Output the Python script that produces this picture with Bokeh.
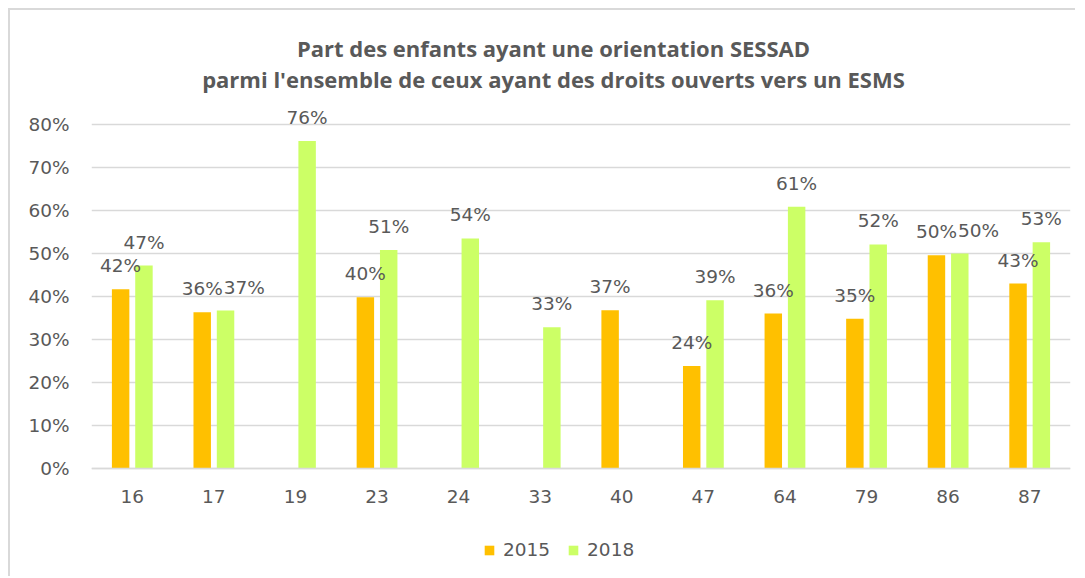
from bokeh.plotting import figure
from bokeh.models import (ColumnDataSource, FactorRange, FixedTicker, NumeralTickFormatter,
                          LabelSet, Label, Legend, LegendItem)
from bokeh.core.properties import value
from bokeh.transform import dodge
from bokeh.embed import file_html
from bokeh.resources import INLINE

# ---- data ----
departements = ["16", "17", "19", "23", "24", "33", "40", "47", "64", "79", "86", "87"]
part_2015 = [0.417, 0.363, None, 0.398, None, None, 0.368, 0.238, 0.360, 0.348, 0.496, 0.430]
part_2018 = [0.472, 0.367, 0.762, 0.508, 0.535, 0.328, None, 0.391, 0.609, 0.521, 0.500, 0.526]
series_names = ["2015", "2018"]
y_ticks = [0.0, 0.1, 0.2, 0.3, 0.4, 0.5, 0.6, 0.7, 0.8]

TITLE1 = "Part des enfants ayant une orientation SESSAD"
TITLE2 = "parmi l'ensemble de ceux ayant des droits ouverts vers un ESMS"

# ---- style / geometry ----
C15 = "#FFC000"
C18 = "#CCFF66"
TXT = "#595959"
GRID = "#D9D9D9"
FONT = "DejaVu Sans"
FS = "18.5px"
OFF = 0.143
BW = 0.214
FRAME_W, FRAME_H = 979, 566
ZERO_PX = 457.7          # distance of the 0 % line below the frame top
PX_PER_UNIT = 429.4      # pixels for 100 %
Y_MAX = ZERO_PX / PX_PER_UNIT
Y_MIN = -(FRAME_H - ZERO_PX) / PX_PER_UNIT

def nan(v):
    return float("nan") if v is None else v

src = ColumnDataSource(dict(dep=departements,
                            v15=[nan(v) for v in part_2015],
                            v18=[nan(v) for v in part_2018]))

p = figure(x_range=FactorRange(*departements, range_padding=0), y_range=(Y_MIN, Y_MAX),
           frame_width=FRAME_W, frame_height=FRAME_H,
           min_border_left=81, min_border_right=5, min_border_top=0, min_border_bottom=0,
           output_backend="svg", toolbar_location=None,
           styles={"border-top": "2px solid #D9D9D9", "border-left": "2px solid #D9D9D9",
                   "margin-left": "8px", "margin-top": "8px"})
p.title = None

r15 = p.vbar(x=dodge("dep", -OFF, range=p.x_range), top="v15", width=BW, source=src,
             fill_color=C15, line_color=None)
r18 = p.vbar(x=dodge("dep", OFF, range=p.x_range), top="v18", width=BW, source=src,
             fill_color=C18, line_color=None)

# ---- data labels (simple overlap avoidance, as Excel does) ----
LABEL_W = 42.0
LABEL_H = 15.0
cat_px = FRAME_W / len(departements)
l15 = dict(dep=[], y=[], text=[], xo=[])
l18 = dict(dep=[], y=[], text=[], xo=[])
for d, a, b in zip(departements, part_2015, part_2018):
    if a is not None:
        l15["dep"].append(d); l15["y"].append(a); l15["text"].append(f"{round(a*100)}%"); l15["xo"].append(0)
    if b is not None:
        shift = 0
        if a is not None and abs(a - b) * PX_PER_UNIT < LABEL_H:
            shift = max(0, LABEL_W - 2 * OFF * cat_px)
        l18["dep"].append(d); l18["y"].append(b); l18["text"].append(f"{round(b*100)}%"); l18["xo"].append(shift)

for data, o in ((l15, -OFF), (l18, OFF)):
    p.add_layout(LabelSet(x=dodge("dep", o, range=p.x_range), y="y", text="text",
                          source=ColumnDataSource(data),
                          x_offset="xo", y_offset=17, text_align="center", text_baseline="alphabetic",
                          text_font=value(FONT), text_font_size=value(FS), text_color=TXT))

# ---- axes / grid ----
p.yaxis.ticker = FixedTicker(ticks=y_ticks)
p.yaxis.formatter = NumeralTickFormatter(format="0%")
p.yaxis.axis_line_color = None
p.yaxis.major_tick_line_color = None
p.yaxis.minor_tick_line_color = None
p.yaxis.major_tick_out = 0
p.yaxis.major_label_standoff = 22
p.yaxis.major_label_text_font = FONT
p.yaxis.major_label_text_font_size = FS
p.yaxis.major_label_text_color = TXT

p.xaxis.fixed_location = 0
p.xaxis.axis_line_color = GRID
p.xaxis.axis_line_width = 1.5
p.xaxis.major_tick_line_color = None
p.xaxis.minor_tick_line_color = None
p.xaxis.major_tick_out = 0
p.xaxis.major_label_standoff = 22
p.xaxis.major_label_text_font = FONT
p.xaxis.major_label_text_font_size = FS
p.xaxis.major_label_text_color = TXT

p.xgrid.grid_line_color = None
p.ygrid.grid_line_color = GRID
p.ygrid.grid_line_width = 1.5
p.outline_line_color = None

# ---- title (two lines, centred) ----
for txt, from_top in ((TITLE1, 37), (TITLE2, 68)):
    p.add_layout(Label(x=462, y=FRAME_H - from_top, x_units="screen", y_units="screen", text=txt,
                       text_align="center", text_baseline="alphabetic",
                       text_font="Open Sans", text_font_size="22px",
                       text_font_style="bold", text_color=TXT))

# ---- legend ----
legend = Legend(items=[LegendItem(label=series_names[0], renderers=[r15]),
                       LegendItem(label=series_names[1], renderers=[r18])],
                orientation="horizontal", location=(392, 16),
                glyph_width=12, glyph_height=12, label_standoff=8, spacing=17,
                padding=0, margin=0, border_line_color=None, background_fill_alpha=0,
                label_text_font=FONT, label_text_font_size=FS, label_text_color=TXT)
p.add_layout(legend, "center")

open("out.html", "w").write(file_html(p, INLINE))
